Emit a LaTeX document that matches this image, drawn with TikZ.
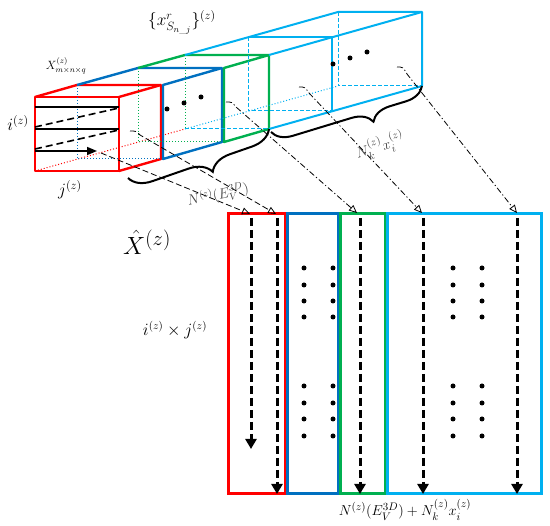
\documentclass[tikz,border=0pt]{standalone}
\usepackage{amsmath, amssymb}
\usepackage{xcolor}
\usepackage{tikz}
\usetikzlibrary{arrows.meta, calc, decorations.pathreplacing}

\definecolor{boxred}{RGB}{255,0,0}
\definecolor{boxblue}{RGB}{0,112,192}
\definecolor{boxgreen}{RGB}{0,176,80}
\definecolor{boxcyan}{RGB}{0,176,240}

\begin{document}
\begin{tikzpicture}[x=1pt, y=-1pt,
    edge/.style={line width=2.4pt, line join=round},
    hid/.style={line width=1pt, dotted},
    back/.style={line width=1pt, dash pattern=on 4pt off 2pt},
    link/.style={line width=0.8pt, dash pattern=on 6pt off 2.5pt on 1.2pt off 2.5pt,
                 -{Triangle[open, width=7pt, length=8pt]}},
    scan/.style={line width=3pt, dash pattern=on 8pt off 4pt,
                 -{Triangle[width=11pt, length=10pt]}},
    dot/.style={circle, fill=black, inner sep=0pt, minimum size=5pt},
    lab/.style={inner sep=0pt}]
  \useasboundingbox (0,0) rectangle (550,526);
  \def\lw{84} \def\lh{74}
  % corners of the faces, front (0) to back (5)
  \foreach \n/\dx/\dy in {0/0/0, 1/42/-12, 2/103/-29, 3/150/-42, 4/213/-60, 5/303/-85} {
    \coordinate (tl\n) at (35+\dx, 97+\dy);
    \coordinate (tr\n) at (35+\lw+\dx, 97+\dy);
    \coordinate (br\n) at (35+\lw+\dx, 97+\lh+\dy);
    \coordinate (bl\n) at (35+\dx, 97+\lh+\dy);
  }

  % red block
  \draw[boxred, hid] (bl0) -- (bl3);
  \draw[boxred, edge] (tl0) rectangle (br0);
  \draw[boxred, edge] (tl0) -- (tl1) -- (tr1) -- (br1) -- (br0);
  \draw[boxred, edge] (tr0) -- (tr1);
  % blue block
  \draw[boxblue, hid] (tl1) -- (bl1) -- (br1);
  \draw[boxblue, edge] (tl1) -- (tl2) -- (tr2) -- (br2) -- ([xshift=2pt]br1) -- ([xshift=2pt]tr1) -- (tr2);
  % green block
  \draw[boxgreen, hid] (tl2) -- (bl2) -- (br2);
  \draw[boxgreen, hid] (tl3) -- (bl3);
  \draw[boxgreen, edge] (tl2) -- (tl3) -- (tr3) -- (br3) -- ([xshift=2pt]br2) -- ([xshift=2pt]tr2) -- (tr3);
  % cyan blocks
  \draw[boxcyan, hid] (bl3) -- (bl5);
  \draw[boxcyan, back] (bl3) -- (br3);
  \draw[boxcyan, back] (tl4) -- (bl4) -- (br4);
  \draw[boxcyan, back] (tl5) -- (bl5) -- (br5);
  \draw[boxcyan, line width=2pt, line join=round] (tl3) -- (tl5) -- (tr5) -- (br5) -- (br3);
  \draw[boxcyan, line width=2pt, line join=round] (tr3) -- (tr5);
  \draw[boxcyan, line width=2pt, line join=round] (tl4) -- (tr4) -- (br4);

  % scan of the front face
  \draw[line width=1.6pt] (35,107) -- (119,107);
  \draw[line width=1.6pt] (35,129) -- (119,129);
  \draw[line width=1.6pt, -{Triangle[width=8pt, length=10pt]}] (35,151) -- (97,151);
  \draw[line width=1.6pt, dash pattern=on 7pt off 4pt] (35,127) -- (119,108);
  \draw[line width=1.6pt, dash pattern=on 7pt off 4pt] (35,149) -- (119,130);

  \node[dot] (c1) at (167,109) {};
  \node[dot] (c2) at (184,103) {};
  \node[dot] (c3) at (201,97) {};
  \node[dot] (c4) at (333,64) {};
  \node[dot] (c5) at (350,58) {};
  \node[dot] (c6) at (367,52) {};

  % braces
  \draw[line width=2pt, decorate, decoration={brace, mirror, amplitude=22pt, aspect=0.55}]
    (128,178) -- (br3);
  \draw[line width=2pt, decorate, decoration={brace, mirror, amplitude=20pt, aspect=0.64}]
    ([xshift=2pt, yshift=-3pt]br3) -- (br5);

  % unfolded matrix
  \draw[boxred, line width=3pt] (228,214) rectangle (285,494);
  \draw[boxblue, line width=3pt] (287,214) rectangle (338,494);
  \draw[boxgreen, line width=3pt] (340,214) rectangle (385,494);
  \draw[boxcyan, line width=3pt] (387,214) rectangle (541,494);

  \foreach \x in {304,333,453,482}
    \foreach \y in {268,285,301,317,386,403,419,436}
      \node[dot] (m\x-\y) at (\x,\y) {};

  \foreach \x/\y in {251/449, 277/494, 360/494, 423/494, 517/494}
    \draw[scan] (\x,218) -- (\x,\y);

  % links from the slices to the columns
  \coordinate (sA) at (130,131);  \coordinate (eA) at (276,214);
  \coordinate (sB) at (101,153);  \coordinate (eB) at (250,214);
  \coordinate (sC) at (226,102);  \coordinate (eC) at (357,213);
  \coordinate (sD) at (299,87);   \coordinate (eD) at (422,213);
  \coordinate (sE) at (397,67);   \coordinate (eE) at (517,213);
  \draw[link, dash pattern=on 6pt off 3pt] (sA) .. controls ($(sA)+(6,0)$) .. ($(sA)+(10,4)$) -- (eA);
  \draw[link, dash pattern=on 6pt off 3pt] (sB) -- (eB);
  \draw[link] (sC) .. controls ($(sC)+(6,0)$) .. ($(sC)+(10,5)$) -- (eC);
  \draw[link] (sD) .. controls ($(sD)+(6,0)$) .. ($(sD)+(10,6)$) -- (eD);
  \draw[link] (sE) .. controls ($(sE)+(6,0)$) .. ($(sE)+(10,7)$) -- (eE);

  % labels
  \node[lab] (lx) at (182,22) {\fontsize{18}{20}\selectfont $\{x^{r}_{S_{n\_j}}\}^{(z)}$};
  \node[lab] (lX) at (66,66) {\fontsize{12}{14}\selectfont $X^{(z)}_{m\times n\times q}$};
  \node[lab] (li) at (18,123) {\fontsize{18}{20}\selectfont $i^{(z)}$};
  \node[lab] (lj) at (70,190) {\fontsize{18}{20}\selectfont $j^{(z)}$};
  \node[lab, black!75, rotate=12] (lN) at (218,195) {\fontsize{14}{16}\selectfont $N^{(z)}(E_V^{3D})$};
  \node[lab, black!75, rotate=17] (lNk) at (380,146) {\fontsize{15}{17}\selectfont $N_k^{(z)}x_i^{(z)}$};
  \node[lab] (lXh) at (147,242) {\fontsize{32}{36}\selectfont $\hat{X}^{(z)}$};
  \node[lab] (lij) at (175,330) {\fontsize{16}{18}\selectfont $i^{(z)}\times j^{(z)}$};
  \node[lab] (lsum) at (405,510) {\fontsize{15}{17}\selectfont $N^{(z)}(E_V^{3D})+N_k^{(z)}x_i^{(z)}$};
\end{tikzpicture}
\end{document}
